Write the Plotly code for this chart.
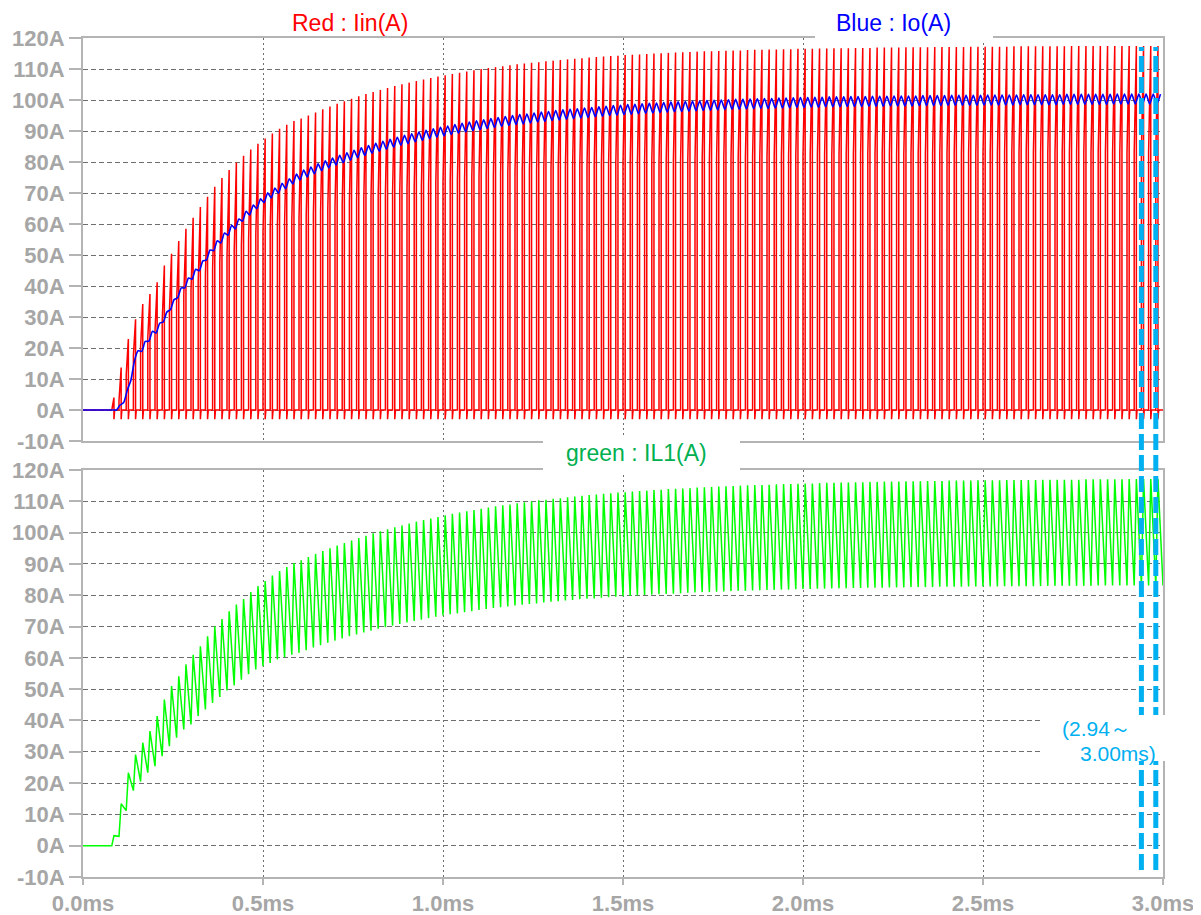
import plotly.graph_objects as go

# ---------------- data ----------------
T_START = 0.08        # ms, first switching cycle
PERIOD = 0.02         # ms, switching period
DUTY = 0.3            # on-time fraction
IIN_UNDERSHOOT = -3.0 # A, short negative spike of Iin after each pulse
IO_RIPPLE = 1.6       # A, half peak-to-peak ripple of Io

# IL1 peak value of every switching cycle (A)
il1_peak = [
    3.2, 13.4, 23.3, 29.1, 32.9, 36.6, 41.4, 46.7, 51.0, 54.1, 57.9, 61.0, 63.7,
    66.9, 70.1, 72.4, 74.9, 77.0, 78.8, 81.0, 82.9, 84.5, 86.3, 87.7, 89.0, 90.3,
    91.2, 92.2, 93.2, 94.1, 95.0, 95.9, 96.7, 97.5, 98.3, 99.0,
    99.8, 100.4, 101.1, 101.7, 102.3, 102.9, 103.5, 104.0, 104.5, 105.0,
    105.5, 106.0, 106.4, 106.8, 107.2, 107.6, 108.0, 108.4, 108.7, 109.0,
    109.4, 109.7, 110.0, 110.3, 110.5, 110.8, 111.0, 111.3, 111.5, 111.8,
    112.0, 112.2, 112.4, 112.6, 112.8, 112.9, 113.1, 113.3, 113.4, 113.6,
    113.7, 113.9, 114.0, 114.1, 114.2, 114.4, 114.5, 114.6, 114.7, 114.8,
    114.9, 115.0, 115.1, 115.2, 115.2, 115.3, 115.4, 115.5, 115.5, 115.6,
    115.7, 115.7, 115.8, 115.9, 115.9, 116.0, 116.0, 116.1, 116.1, 116.2,
    116.2, 116.3, 116.3, 116.3, 116.4, 116.4, 116.4, 116.5, 116.5, 116.5,
    116.6, 116.6, 116.6, 116.6, 116.7, 116.7, 116.7, 116.7, 116.8, 116.8,
    116.8, 116.8, 116.8, 116.9, 116.9, 116.9, 116.9, 116.9, 116.9, 117.0,
    117.0, 117.0, 117.0, 117.0, 117.0, 117.1, 117.1, 117.1, 117.1, 117.1,
]

# IL1 valley value at the start of every switching cycle (A)
il1_valley = [
    0.0, 3.0, 11.2, 17.6, 20.5, 23.3, 25.4, 28.6, 31.8, 34.5, 37.1, 38.7, 41.4,
    43.5, 45.6, 47.5, 49.6, 51.2, 53.0, 54.8, 56.3, 57.3, 58.4, 59.5, 60.2, 61.0,
    61.6, 62.4, 63.3, 64.0, 64.8, 65.5, 66.2, 66.9, 67.5, 68.1,
    68.7, 69.3, 69.8, 70.3, 70.8, 71.3, 71.8, 72.2, 72.7, 73.1,
    73.5, 73.9, 74.2, 74.6, 74.9, 75.3, 75.6, 75.9, 76.2, 76.4,
    76.7, 77.0, 77.2, 77.4, 77.7, 77.9, 78.1, 78.3, 78.5, 78.7,
    78.9, 79.0, 79.2, 79.4, 79.5, 79.7, 79.8, 79.9, 80.1, 80.2,
    80.3, 80.4, 80.5, 80.6, 80.8, 80.9, 81.0, 81.0, 81.1, 81.2,
    81.3, 81.4, 81.4, 81.5, 81.6, 81.7, 81.7, 81.8, 81.8, 81.9,
    82.0, 82.0, 82.1, 82.1, 82.2, 82.2, 82.2, 82.3, 82.3, 82.4,
    82.4, 82.4, 82.5, 82.5, 82.5, 82.6, 82.6, 82.6, 82.6, 82.7,
    82.7, 82.7, 82.7, 82.8, 82.8, 82.8, 82.8, 82.8, 82.9, 82.9,
    82.9, 82.9, 82.9, 82.9, 83.0, 83.0, 83.0, 83.0, 83.0, 83.0,
    83.0, 83.1, 83.1, 83.1, 83.1, 83.1, 83.1, 83.1, 83.1, 83.1,
]

# Iin pulse peak value of every switching cycle (A)
iin_peak = [
    4.0, 13.7, 22.9, 29.3, 34.2, 37.4, 41.2, 46.6, 50.4, 54.5, 58.5, 62.0, 65.5,
    68.8, 72.0, 74.8, 77.4, 79.8, 82.0, 84.0, 85.9, 87.6, 89.2, 90.7, 92.0, 93.2,
    94.0, 95.0, 96.0, 97.0, 97.9, 98.8, 99.6, 100.4, 101.2, 101.9,
    102.6, 103.2, 103.9, 104.5, 105.1, 105.6, 106.1, 106.6, 107.1, 107.6,
    108.0, 108.4, 108.8, 109.2, 109.6, 110.0, 110.3, 110.6, 110.9, 111.2,
    111.5, 111.8, 112.0, 112.2, 112.5, 112.7, 112.9, 113.1, 113.3, 113.5,
    113.7, 113.9, 114.0, 114.2, 114.3, 114.5, 114.6, 114.7, 114.8, 115.0,
    115.1, 115.2, 115.3, 115.4, 115.5, 115.6, 115.7, 115.7, 115.8, 115.9,
    116.0, 116.0, 116.1, 116.2, 116.2, 116.3, 116.3, 116.4, 116.4, 116.5,
    116.5, 116.5, 116.6, 116.6, 116.7, 116.7, 116.7, 116.8, 116.8, 116.8,
    116.9, 116.9, 116.9, 116.9, 117.0, 117.0, 117.0, 117.0, 117.1, 117.1,
    117.1, 117.1, 117.1, 117.2, 117.2, 117.2, 117.2, 117.2, 117.2, 117.3,
    117.3, 117.3, 117.3, 117.3, 117.3, 117.3, 117.3, 117.4, 117.4, 117.4,
    117.4, 117.4, 117.4, 117.4, 117.4, 117.4, 117.4, 117.4, 117.4, 117.4,
]

# Io average value of every switching cycle (A)
io_avg = [
    0.0, 2.0, 8.0, 17.5, 20.5, 23.8, 26.4, 30.0, 34.0, 37.8, 41.0, 43.8, 46.5,
    50.0, 53.0, 55.5, 58.0, 60.0, 62.5, 64.5, 66.5, 68.5, 70.0, 71.5, 73.0, 74.5,
    75.8, 76.8, 77.8, 78.8, 79.7, 80.6, 81.4, 82.2, 83.0, 83.7,
    84.4, 85.1, 85.7, 86.4, 87.0, 87.5, 88.1, 88.6, 89.1, 89.6,
    90.0, 90.5, 90.9, 91.3, 91.7, 92.0, 92.4, 92.7, 93.1, 93.4,
    93.7, 93.9, 94.2, 94.5, 94.7, 95.0, 95.2, 95.4, 95.6, 95.8,
    96.0, 96.2, 96.4, 96.6, 96.7, 96.9, 97.0, 97.2, 97.3, 97.4,
    97.6, 97.7, 97.8, 97.9, 98.0, 98.1, 98.2, 98.3, 98.4, 98.5,
    98.6, 98.6, 98.7, 98.8, 98.9, 98.9, 99.0, 99.0, 99.1, 99.2,
    99.2, 99.3, 99.3, 99.4, 99.4, 99.4, 99.5, 99.5, 99.5, 99.6,
    99.6, 99.6, 99.7, 99.7, 99.7, 99.7, 99.8, 99.8, 99.8, 99.8,
    99.9, 99.9, 99.9, 99.9, 99.9, 100.0, 100.0, 100.0, 100.0, 100.0,
    100.1, 100.1, 100.1, 100.1, 100.1, 100.1, 100.2, 100.2, 100.2, 100.2,
    100.2, 100.2, 100.2, 100.3, 100.3, 100.3, 100.3, 100.3, 100.3, 100.3,
]

x_tickvals = [0.0, 0.5, 1.0, 1.5, 2.0, 2.5, 3.0]
x_ticktext = ["0.0ms", "0.5ms", "1.0ms", "1.5ms", "2.0ms", "2.5ms", "3.0ms"]
y_tickvals = [-10, 0, 10, 20, 30, 40, 50, 60, 70, 80, 90, 100, 110, 120]
y_ticktext = ["-10A", "0A", "10A", "20A", "30A", "40A", "50A", "60A",
              "70A", "80A", "90A", "100A", "110A", "120A"]
T_END = 3.0
marker_times = [2.94, 2.98]

# ---------------- build waveforms from the per-cycle values ----------------
n = len(il1_peak)
on_t = DUTY * PERIOD

t_red, y_red = [0.0], [0.0]
t_grn, y_grn = [0.0, T_START], [0.0, 0.0]
t_blu, y_blu = [0.0, T_START], [0.0, 0.0]
for k in range(n):
    tk = T_START + k * PERIOD
    lo, hi, io = il1_valley[k], il1_peak[k], io_avg[k]
    # input current pulse
    t_red += [tk, tk, tk + on_t, tk + on_t, tk + on_t + 0.002]
    y_red += [0.0, lo, iin_peak[k], IIN_UNDERSHOOT, 0.0]
    # inductor current triangle
    t_grn += [tk, tk + on_t]
    y_grn += [lo, hi]
    # output current with small ripple
    a = min(IO_RIPPLE, 0.2 * io)
    t_blu += [tk + 0.15 * PERIOD, tk + 0.65 * PERIOD]
    y_blu += [io - a, io + a]
t_red.append(T_END); y_red.append(0.0)
t_grn.append(T_END); y_grn.append(il1_valley[-1])

# ---------------- figure ----------------
# the page body adds an 8px offset, so the figure is 8px smaller than the window
OFF = 8
W, H = 1201 - OFF, 915 - OFF
ML, MR, MT, MB = 83 - OFF, 38, 38 - OFF, 38
PW, PH = W - ML - MR, H - MT - MB


def px(xp):
    """window pixel x -> paper x"""
    return (xp - OFF - ML) / PW


def py(yp):
    """window pixel y -> paper y"""
    return (H - MB - (yp - OFF)) / PH


fig = go.Figure()
fig.add_trace(go.Scatter(x=t_red, y=y_red, mode="lines", xaxis="x", yaxis="y",
                         line=dict(color="#FF0000", width=1.5), hoverinfo="skip"))
fig.add_trace(go.Scatter(x=t_blu, y=y_blu, mode="lines", xaxis="x", yaxis="y",
                         line=dict(color="#0000FF", width=1.6, shape="spline", smoothing=0.6),
                         hoverinfo="skip"))
fig.add_trace(go.Scatter(x=t_grn, y=y_grn, mode="lines", xaxis="x2", yaxis="y2",
                         line=dict(color="#00FF00", width=1.5), hoverinfo="skip"))

tick_font = dict(family="Liberation Sans, Arial, sans-serif", size=22, color="#A6A6A6", weight="bold")
grid_x = dict(range=[0, T_END], tickvals=x_tickvals, ticktext=x_ticktext, showgrid=True,
              gridcolor="#6E6E6E", gridwidth=1, griddash="2px,3px", zeroline=False,
              showline=True, linecolor="#B4B4B4", linewidth=2, mirror=True, tickfont=tick_font,
              automargin=False)
grid_y = dict(range=[-10, 120], tickvals=y_tickvals, ticktext=y_ticktext, showgrid=True,
              gridcolor="#6E6E6E", gridwidth=1, griddash="5px,3px", zeroline=False,
              showline=True, linecolor="#B4B4B4", linewidth=2, mirror=True, tickfont=tick_font,
              ticks="outside", ticklen=12, tickcolor="#B4B4B4", tickwidth=1.5,
              automargin=False)

top_dom = [py(441), 1.0]
bot_dom = [0.0, py(470)]

fig.update_layout(
    width=W, height=H,
    margin=dict(l=ML, r=MR, t=MT, b=MB, autoexpand=False),
    paper_bgcolor="white", plot_bgcolor="white",
    showlegend=False,
    xaxis=dict(grid_x, anchor="y", domain=[0, 1], showticklabels=False, ticks=""),
    xaxis2=dict(grid_x, anchor="y2", domain=[0, 1], ticks="outside", ticklen=6,
                tickcolor="#B4B4B4", tickwidth=1.5),
    yaxis=dict(grid_y, anchor="x", domain=top_dom),
    yaxis2=dict(grid_y, anchor="x2", domain=bot_dom),
)

cyan = "#00B0F0"
shapes = []
for mt in marker_times:
    shapes.append(dict(type="line", xref="x2", yref="paper", x0=mt, x1=mt,
                       y0=py(870), y1=py(47), layer="above",
                       line=dict(color=cyan, width=5, dash="16px,5px")))
# white label boxes
shapes.append(dict(type="rect", xref="paper", yref="paper", x0=px(815), x1=px(993),
                   y0=py(40), y1=py(10), fillcolor="white", line=dict(width=0), layer="above"))
shapes.append(dict(type="rect", xref="paper", yref="paper", x0=px(543), x1=px(740),
                   y0=py(474), y1=py(436), fillcolor="white", line=dict(width=0), layer="above"))
shapes.append(dict(type="rect", xref="paper", yref="paper", x0=px(1042), x1=px(1175),
                   y0=py(761), y1=py(715), fillcolor="white", line=dict(width=0), layer="above"))
fig.update_layout(shapes=shapes)

lab_font = "Liberation Sans, Arial, sans-serif"
annos = [
    dict(text="Red : Iin(A)", x=px(350), y=py(23), color="#FF0000", size=23),
    dict(text="Blue : Io(A)", x=px(893), y=py(23), color="#0000FF", size=23),
    dict(text="green : IL1(A)", x=px(636), y=py(453), color="#00B050", size=23),
    dict(text="(2.94～", x=px(1096), y=py(728), color=cyan, size=21),
    dict(text="3.00ms)", x=px(1118), y=py(753), color=cyan, size=21),
]
fig.update_layout(annotations=[
    dict(text=a["text"], x=a["x"], y=a["y"], xref="paper", yref="paper",
         xanchor="center", yanchor="middle", showarrow=False, borderpad=0,
         font=dict(family=lab_font, size=a["size"], color=a["color"]))
    for a in annos
])

fig.write_html("out.html")
